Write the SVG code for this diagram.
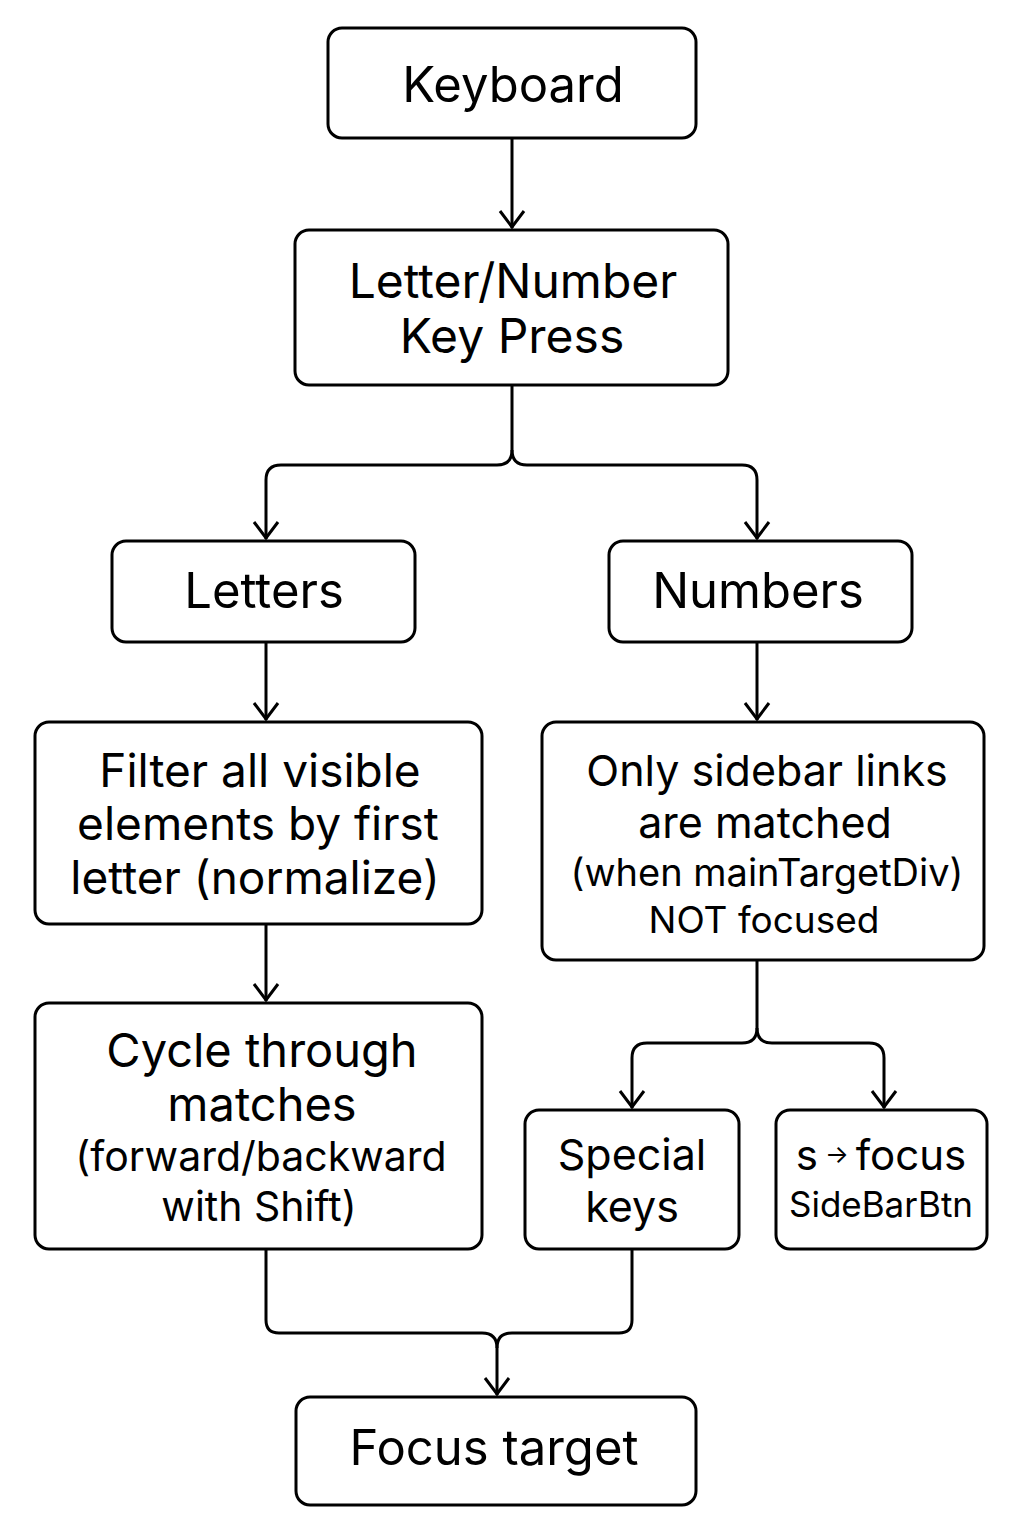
<svg xmlns="http://www.w3.org/2000/svg" width="1024" height="1536" viewBox="0 0 1024 1536">
<style>
.box{fill:#fff;stroke:#000;stroke-width:3}
.t{font-family:Inter,"Liberation Sans",sans-serif;fill:#000;text-anchor:middle}
.c{fill:none;stroke:#000;stroke-width:3;stroke-linejoin:round}
</style>
<defs>
<marker id="v" markerWidth="30" markerHeight="30" refX="15" refY="21" markerUnits="userSpaceOnUse" viewBox="0 0 30 30" orient="0">
<polyline points="3,4 15,20 27,4" fill="none" stroke="#000" stroke-width="3"/>
</marker>
</defs>
<rect width="1024" height="1536" fill="#fff"/>
<g id="connectors">
<path class="c" d="M512,138 V228" marker-end="url(#v)"/>
<path class="c" d="M512,385 V450 Q512,465 497,465 H281 Q266,465 266,480 V539" marker-end="url(#v)"/>
<path class="c" d="M512,450 Q512,465 527,465 H742 Q757,465 757,480 V539" marker-end="url(#v)"/>
<path class="c" d="M266,642 V720" marker-end="url(#v)"/>
<path class="c" d="M757,642 V720" marker-end="url(#v)"/>
<path class="c" d="M266,924 V1001" marker-end="url(#v)"/>
<path class="c" d="M757,960 V1028 Q757,1043 742,1043 H647 Q632,1043 632,1058 V1108" marker-end="url(#v)"/>
<path class="c" d="M757,1028 Q757,1043 772,1043 H869 Q884,1043 884,1058 V1108" marker-end="url(#v)"/>
<path class="c" d="M266,1249 V1320 Q266,1333 279,1333 H482 Q497,1333 497,1348 V1395" marker-end="url(#v)"/>
<path class="c" d="M632,1249 V1320 Q632,1333 619,1333 H512 Q497,1333 497,1348"/>
</g>
<g id="keyboard">
<rect class="box" x="328" y="28" width="368" height="110" rx="14"/>
<text class="t" x="513" y="102" font-size="49">Keyboard</text>
</g>
<g id="keypress">
<rect class="box" x="295" y="230" width="433" height="155" rx="14"/>
<text class="t" x="513" y="298" font-size="48">Letter/Number</text>
<text class="t" x="512" y="353" font-size="48">Key Press</text>
</g>
<g id="letters">
<rect class="box" x="112" y="541" width="303" height="101" rx="14"/>
<text class="t" x="264" y="608" font-size="49">Letters</text>
</g>
<g id="numbers">
<rect class="box" x="609" y="541" width="303" height="101" rx="14"/>
<text class="t" x="758" y="608" font-size="49">Numbers</text>
</g>
<g id="filter">
<rect class="box" x="35" y="722" width="447" height="202" rx="14"/>
<text class="t" x="260" y="787" font-size="46">Filter all visible</text>
<text class="t" x="258" y="840" font-size="46">elements by first</text>
<text class="t" x="255" y="894" font-size="46">letter (normalize)</text>
</g>
<g id="cycle">
<rect class="box" x="35" y="1003" width="447" height="246" rx="14"/>
<text class="t" x="262" y="1067" font-size="47">Cycle through</text>
<text class="t" x="262" y="1121" font-size="47">matches</text>
<text class="t" x="261" y="1171" font-size="41">(forward/backward</text>
<text class="t" x="259" y="1221" font-size="41">with Shift)</text>
</g>
<g id="sidebar">
<rect class="box" x="542" y="722" width="442" height="238" rx="14"/>
<text class="t" x="767" y="786" font-size="43">Only sidebar links</text>
<text class="t" x="765" y="838" font-size="43">are matched</text>
<text class="t" x="767" y="886" font-size="38">(when mainTargetDiv)</text>
<text class="t" x="764" y="933" font-size="37">NOT focused</text>
</g>
<g id="special">
<rect class="box" x="525" y="1110" width="214" height="139" rx="14"/>
<text class="t" x="632" y="1170" font-size="43">Special</text>
<text class="t" x="632" y="1222" font-size="43">keys</text>
</g>
<g id="sfocus">
<rect class="box" x="776" y="1110" width="211" height="139" rx="14"/>
<text class="t" x="881" y="1170" font-size="42">s<tspan font-size="25" dy="-7"> → </tspan><tspan dy="7">focus</tspan></text>
<text class="t" x="881" y="1217" font-size="35">SideBarBtn</text>
</g>
<g id="focus">
<rect class="box" x="296" y="1397" width="400" height="108" rx="14"/>
<text class="t" x="494" y="1465" font-size="49">Focus target</text>
</g>
</svg>
